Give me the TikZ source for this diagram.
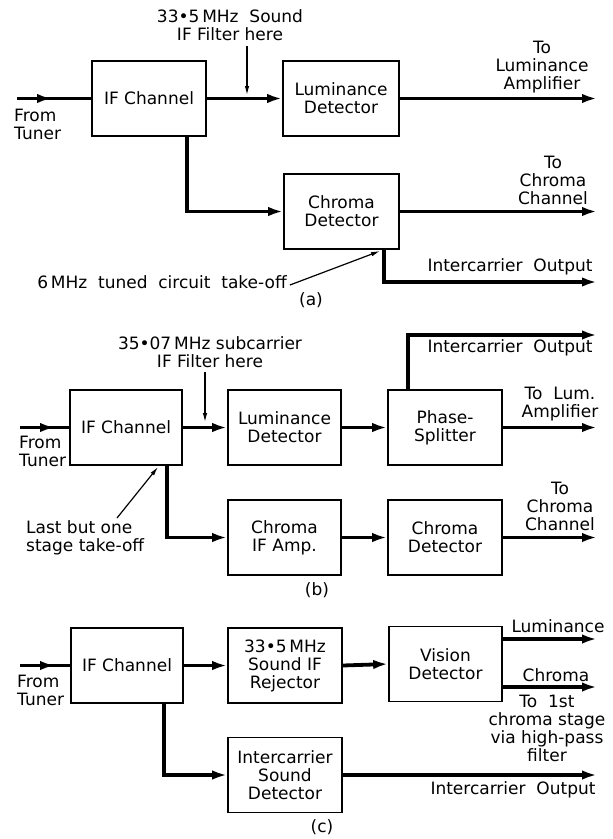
\documentclass[tikz,border=0pt]{standalone}
\usepackage{fontspec}
\setmainfont{DejaVu Sans}
\usetikzlibrary{arrows.meta}
\newcommand\dfont{\fontsize{17}{18}\selectfont}
\tikzset{
  blk/.style={draw, line width=1.7pt, minimum width=114pt, minimum height=75pt, align=center, inner sep=0pt, font=\dfont},
  lbl/.style={align=center, inner sep=0pt, font=\dfont},
  lbll/.style={align=left, inner sep=0pt, font=\dfont},
  thk/.style={line width=3.8pt, -{Latex[length=15pt,width=9.5pt]}},
  thkplain/.style={line width=3.8pt},
  thinarr/.style={line width=1.2pt, -{Latex[length=9pt,width=4.5pt]}},
}
\begin{document}
\begin{tikzpicture}[x=1pt,y=-1pt]
\useasboundingbox (0,0) rectangle (613,839);
\fill[white] (0,0) rectangle (613,839);

% ---------------- (a) ----------------
\node[blk] (IFa) at (149,98.5) {IF Channel};
\node[blk, minimum width=116pt] (Luma) at (341,98.5) {Luminance\\Detector};
\node[blk, minimum width=115pt] (Chra) at (341.5,211.5) {Chroma\\Detector};
\coordinate (inA) at (17,98.5);
\coordinate (midA) at (52,98.5);
\draw[thkplain] (inA) -- (IFa.west);
\draw[thk] (inA) -- (midA);
\node[lbll, anchor=west] (ftA) at (14,124) {From\\Tuner};
\draw[thk] (IFa.east) -- (Luma.west);
\draw[thk] ([xshift=38pt]IFa.south) |- (Chra.west);
\coordinate (outLA) at (597,98.5);
\coordinate (outCA) at (597,211.5);
\coordinate (outIA) at (597,282);
\draw[thk] (Luma.east) -- (outLA);
\draw[thk] (Chra.east) -- (outCA);
\draw[thk] ([xshift=42.5pt]Chra.south) |- (outIA);
\node[lbl] (filtA) at (230,25.5) {33•5\,MHz\ \ Sound\\IF Filter here};
\coordinate (fA1) at (247,46);
\coordinate (fA2) at (247,95);
\draw[thinarr] (fA1) -- (fA2);
\node[lbl] (tLA) at (542,67) {To\\Luminance\\Amplifier};
\node[lbl] (tCA) at (553,180) {To\\Chroma\\Channel};
\node[lbl] (icA) at (510,267) {Intercarrier\ \ Output};
\node[lbl] (sixA) at (162,282) {6\,MHz\ \ tuned\ \ circuit\ \ take-off};
\coordinate (tipA) at (380,251);
\draw[thinarr] (sixA.east) ++(3pt,-3pt) -- (tipA);
\node[lbl] (capA) at (311,300) {(a)};

% ---------------- (b) ----------------
\node[blk, minimum width=112pt] (IFb) at (126,427.5) {IF Channel};
\node[blk, minimum width=113pt] (Lumb) at (284.5,427.5) {Luminance\\Detector};
\node[blk] (Phb) at (445,427.5) {Phase-\\Splitter};
\node[blk, minimum width=113pt] (CIFb) at (284.5,537.5) {Chroma\\IF Amp.};
\node[blk] (CDb) at (445,537.5) {Chroma\\Detector};
\coordinate (inB) at (20,427.5);
\coordinate (midB) at (55,427.5);
\draw[thkplain] (inB) -- (IFb.west);
\draw[thk] (inB) -- (midB);
\node[lbll, anchor=west] (ftB) at (19,451.5) {From\\Tuner};
\draw[thk] (IFb.east) -- (Lumb.west);
\draw[thk] (Lumb.east) -- (Phb.west);
\draw[thk] ([xshift=41pt]IFb.south) |- (CIFb.west);
\draw[thk] (CIFb.east) -- (CDb.west);
\coordinate (outIB) at (597,335);
\coordinate (outLB) at (597,427.5);
\coordinate (outCB) at (597,537.5);
\draw[thk] ([xshift=-37pt]Phb.north) |- (outIB);
\draw[thk] (Phb.east) -- (outLB);
\draw[thk] (CDb.east) -- (outCB);
\node[lbl] (filtB) at (210,352.5) {35•07\,MHz\ subcarrier\\IF Filter here};
\coordinate (fB1) at (205,372);
\coordinate (fB2) at (205,422);
\draw[thinarr] (fB1) -- (fB2);
\node[lbl] (icB) at (510,348) {Intercarrier\ \ Output};
\node[lbl] (tLB) at (560,404) {To\ \ Lum.\\Amplifier};
\node[lbl] (tCB) at (560,506) {To\\Chroma\\Channel};
\node[lbll, anchor=west] (lastB) at (26,537.5) {Last\ but\ one\\stage\ take-off};
\coordinate (lbs) at (117,518);
\coordinate (lbt) at (158,467);
\draw[thinarr] (lbs) -- (lbt);
\node[lbl] (capB) at (317,590) {(b)};

% ---------------- (c) ----------------
\node[blk, minimum width=112pt] (IFc) at (127,665.5) {IF Channel};
\node[blk] (Rejc) at (285,665.5) {33•5\,MHz\\Sound IF\\Rejector};
\node[blk, minimum width=113pt] (Visc) at (445.5,664) {Vision\\Detector};
\node[blk] (ICSc) at (285,775) {Intercarrier\\Sound\\Detector};
\coordinate (inC) at (20,665.5);
\coordinate (midC) at (55,665.5);
\draw[thkplain] (inC) -- (IFc.west);
\draw[thk] (inC) -- (midC);
\node[lbll, anchor=west] (ftC) at (17,690) {From\\Tuner};
\draw[thk] (IFc.east) -- (Rejc.west);
\draw[thk] (Rejc.east) -- (Visc.west);
\draw[thk] ([xshift=37pt]IFc.south) |- (ICSc.west);
\coordinate (outLC) at (597,639);
\coordinate (outCC) at (597,687);
\coordinate (outIC) at (597,775);
\draw[thk] (Visc.east |- outLC) -- (outLC);
\draw[thk] (Visc.east |- outCC) -- (outCC);
\draw[thk] (ICSc.east) -- (outIC);
\node[lbl] (lumC) at (558,626) {Luminance};
\node[lbl] (chrC) at (556,675) {Chroma};
\node[lbl] (viaC) at (547,728) {To\ \ 1st\\chroma stage\\via high-pass\\filter};
\node[lbl] (icC) at (513,790) {Intercarrier\ \ Output};
\node[lbl] (capC) at (322,827) {(c)};
\end{tikzpicture}
\end{document}
